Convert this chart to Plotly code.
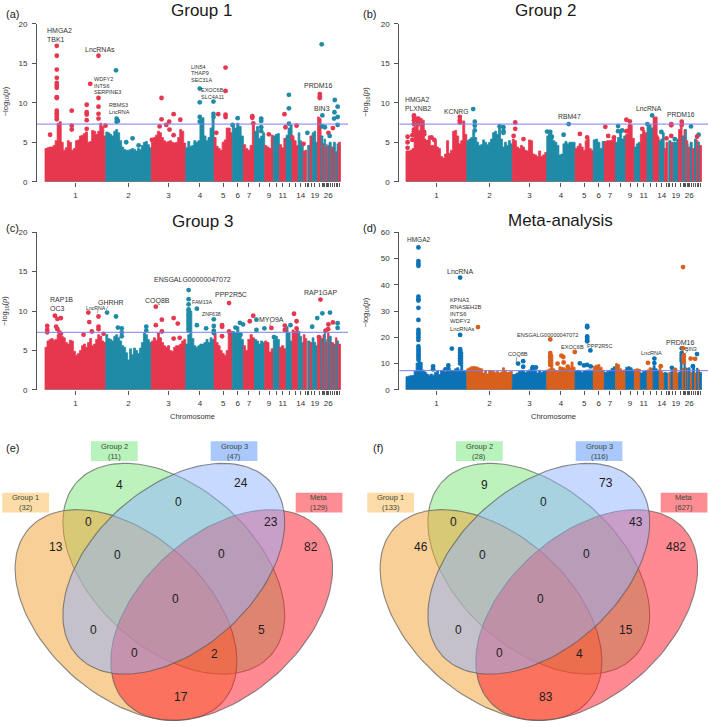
import math
import plotly.graph_objects as go

FONT = "Liberation Sans"
chrom_names = list(range(1, 29)) + [30, 31, 32, 33]
chrom_mb = [191,143,108,89,57,35,35,32,27,19,21,19,19,16,11,3,7,7,17,11,6,4,4,4,2,5,7,7,6,5,5,6]
labelled = [1,2,3,4,5,6,7,9,11,14,19,26]
threshold = 7.3

g1_env = [
 [4.2,4.3,4.4,4.4,4.6,5.2,7.4,7.6,5.0,4.0,4.3,5.2,5.0,4.0,4.2,5.2,5.3,5.8,5.9,6.1,6.3,5.0,5.1,6.5,6.4,6.0,6.4,7.4,7.0,5.8],
 [6.3,6.2,6.0,5.8,6.4,6.6,6.2,5.2,4.4,4.1,4.0,4.0,4.1,4.2,4.1,3.9,4.2,4.1,4.6,5.0,5.1,4.7,4.3],
 [5.0,5.6,5.9,6.4,6.2,5.6,5.2,5.0,5.1,5.2,5.0,4.9,5.0,5.6,6.6,6.4,4.9],
 [4.3,5.1,4.5,4.6,5.2,5.0,5.2,8.0,8.1,5.8,5.2,5.6,6.8,8.0],
 [5.6,4.5,4.2,4.0,5.0,5.3,6.8,6.8,6.2],
 [7.2,6.8,7.4,7.0,5.8],[4.7,4.2,4.0,4.6,7.2],[6.4,7.0,5.5,5.8,6.2],[4.6,4.4,4.2,5.9],
 [5.8,6.0,6.1],[4.7,4.3,5.5],[5.9,6.8,7.2],[5.5,5.2,4.6],[6.2,5.2,4.6],[3.9,4.0],[],
 [4.6],[5.8],[6.2,6.4,5.0],[8.2,8.0],[5.8],[4.8],[5.4],[4.4],[4.8],[4.6],[5.0],[4.4],[5.0],[3.8],[4.8],[5.0]]
g2_env = [
 [3.9,3.9,4.0,4.2,7.0,8.2,6.5,8.0,7.8,5.2,4.8,5.8,4.6,4.6,5.2,4.4,4.2,3.2,3.0,3.5,5.2,3.6,4.0,6.4,6.5,5.8,4.8,5.2,7.7,6.0],
 [5.2,5.4,5.6,6.4,5.6,5.0,4.6,4.7,5.3,5.0,4.7,5.0,5.4,6.2,6.4,6.0,6.8,5.4,4.4,5.0,4.6,5.2,4.8],
 [5.4,5.2,4.4,4.2,4.6,4.4,4.0,3.9,5.3,5.2,3.5,3.4,3.2,3.9,3.2,3.4,3.7],
 [5.8,5.7,5.6,5.2,5.0,4.6,3.4,3.5,4.8,5.1,4.8,5.0,5.0,5.0],
 [4.2,4.5,4.8,4.4,4.0,5.2,5.4,4.2,4.0],
 [5.3,5.4,5.0,4.2,5.1],[5.1,5.2,5.2,5.3,5.4],[5.0,5.6,6.4,5.4,5.8],[6.0,6.8,7.2,5.5],
 [4.4,4.8,5.0],[6.0,6.5,6.2],[7.0,7.2,6.8],[8.2,8.2,5.6],[5.2,5.4,6.2],[4.2,5.0],[],
 [5.2],[5.0],[5.0,5.0,5.4],[6.6,7.4],[5.8],[6.6],[6.6],[5.2],[4.8],[4.4],[5.0],[4.2],[5.4],[5.2],[5.0],[4.6]]
g3_env = [
 [5.4,6.2,6.4,6.5,6.3,6.4,7.0,7.2,6.8,6.6,6.0,5.8,6.3,6.2,4.9,4.4,4.6,5.0,5.6,5.8,5.4,6.0,6.5,5.6,5.8,6.4,7.0,6.8,6.2,6.0],
 [7.0,6.5,6.4,6.2,6.8,7.0,6.6,6.2,5.6,5.4,4.7,3.8,5.2,4.5,5.3,5.0,4.6,5.3,6.0,7.2,7.0,6.4,6.0],
 [6.2,6.6,6.3,7.2,6.6,6.0,5.6,5.4,5.6,5.0,4.9,5.4,5.6,5.6,5.8,6.2,6.4],
 [5.8,7.0,10.0,6.5,5.6,5.4,5.6,5.8,5.8,6.0,6.4,6.0,6.6,6.4],
 [7.2,6.0,5.6,5.0,4.6,4.4,5.0,7.4,7.4],
 [7.4,7.2,8.0,7.2,6.4],[5.6,5.0,6.4,7.0,6.6],[6.4,6.2,5.8,6.2,6.0],[6.2,6.0,4.8,5.2],
 [6.4,6.8,6.4],[5.4,5.6,5.2],[8.0,7.2,6.2],[7.6,7.4,7.8],[7.4,6.8,6.0],[7.0,6.5],[],
 [6.2],[6.0],[6.6,6.0,5.6],[6.6,6.8],[6.5],[7.0],[7.4],[6.0],[6.4],[7.2],[6.8],[6.0],[5.8],[6.6],[6.2],[5.8]]
meta_env = [
 [5.0,5.2,5.4,5.5,7.0,10.2,16.0,10.5,7.5,6.8,6.0,5.6,6.0,5.6,6.6,7.2,5.8,7.3,7.6,6.8,7.2,7.6,7.4,7.2,8.0,8.4,7.6,14.5,7.2,7.0],
 [8.0,8.4,8.8,8.9,8.8,8.6,8.2,8.0,6.4,7.2,6.0,7.4,7.2,7.0,6.6,7.0,6.4,6.8,8.4,7.4,6.6,6.8,7.0],
 [5.8,6.0,6.4,7.0,7.4,7.2,6.6,7.0,7.6,8.4,8.4,7.2,6.4,7.4,6.6,7.0,7.2],
 [7.6,8.0,13.5,8.0,7.4,7.0,8.8,8.6,8.4,8.0,8.2,8.4,10.6,8.6],
 [7.2,7.4,7.2,6.6,7.2,7.4,7.6,7.6,7.4],
 [9.0,9.4,9.6,8.6,7.4],[6.6,7.0,7.4,8.2,8.8],[10.0,9.6,8.0,7.2,7.6],[8.6,8.8,8.4,7.6],
 [7.8,8.0,7.8],[6.4,7.0,7.2],[7.6,8.4,8.2],[9.2,8.0,7.4],[8.6,7.0,6.4],[6.6,6.4],[],
 [6.6],[7.0],[6.6,7.4,6.4],[6.8,14.0],[8.2],[13.0],[8.4],[8.2],[8.0],[8.4],[6.6],[9.0],[6.4],[8.2],[7.6],[6.6]]

g1_x = [37]*14 + [84,84,84,16] + [131]*5 + [142] + [168]*5 + [190,223,225,229,225,255,275,294,336,366,366,381,390,404,425,360,391,404,486,486,529,529,529,486,486,567,567,544,567,567,538,605,589,651,651,654,679,679,679,679,703,752,766,766,766,755,776,790,824,812,863,863,863,869,871,871,879,904,910,919,909,919,908,919,890,894]
g1_y = [17.2,15.95,14.2,13.15,12.5,12.2,11.9,10.7,10.6,9.0,8.7,8.5,8.2,7.9, 9.0,7.1,6.6,5.95, 9.75,8.8,8.5,7.8,6.7, 12.4, 15.95,10.6,9.5,8.6,8.0, 7.1,14.1,8.0,7.7,7.6,5.0,5.5,4.6,5.3,10.6,7.9,7.2,7.6,8.55,7.85,7.0,6.6,5.9,11.8,10.05,10.15,8.6,8.2,8.2,7.6,14.45,11.5,8.55,8.5,8.2,6.2,8.05,7.2,8.3,8.1,7.4,8.0,7.7,6.9,6.4,6.0,8.55,11.0,9.3,7.35,6.9,5.6,7.1,6.2,4.8,11.1,10.8,10.6,17.4,8.4,7.0,6.9,6.8,10.35,9.5,8.8,8.2,8.0,7.2,6.2,5.8]
g2_x = [25]*6 + [39]*3 + [5]*3 + [20,20,57,57,57,68,80,89,169,169,169,211,216,216,216,294,306,306,306,343,343,338,369,443,453,453,458,495,511,546,569,626,635,653,666,666,679,692,703,692,703,703,742,758,773,787,802,833,833,833,844,866,866,895,919,914,818]
g2_y = [8.4,8.2,7.8,7.3,6.6,6.4,8.0,7.6,7.3,5.7,5.0,4.3,5.9,5.3,6.3,6.0,5.2,5.0,5.6,5.3,8.2,7.8,7.5,9.2,7.6,7.1,6.5,7.0,6.9,6.4,6.2,7.5,6.7,5.8,5.4,6.35,6.3,5.9,5.7,5.95,7.3,6.05,5.6,6.95,5.8,5.6,7.05,6.4,6.5,7.85,7.65,6.4,7.0,6.6,6.7,7.3,8.4,5.6,6.3,7.15,7.3,5.8,5.4,7.6,7.2,7.0,5.95,5.7,5.5]
g3_x = [31,39,50,7,7,7,35,39,45,50,136,139,168,168,168,147,121,184,195,223,229,241,241,241,318,318,348,348,367,367,404,417,404,423] + [451]*13 + [477,477,506,530,530,530,530,556,556,556,578,578,598,612,622,614,643,654,664,664,689,711,719,753,753,771,782,790,790,839,860,855,871,865,881,889,895,890,904,919,919]
g3_y = [9.4,9.0,9.1,8.1,7.6,7.3,8.0,7.7,7.3,7.1,9.8,8.6,9.3,8.0,7.7,7.4,7.0,7.1,9.8,9.3,7.9,7.8,7.3,6.8,8.0,7.5,10.55,8.2,8.9,7.4,9.1,8.4,6.5,6.6,12.65,11.5,10.85,10.2,9.9,9.6,9.3,9.0,8.7,8.4,8.1,7.8,7.5,10.3,8.2,7.8,8.95,8.1,7.5,7.2,8.2,8.0,6.8,11.0,7.4,7.9,8.5,8.3,7.0,8.7,9.4,8.9,7.6,7.8,7.85,6.7,8.15,7.6,8.2,9.65,8.7,7.8,8.0,6.7,9.1,9.7,11.45,7.5,7.7,9.8,8.3,8.55,8.45,7.85]
meta_x = [39]*20 + [85,85,133,133,124,144] + [170]*9 + [226,352,368,368,398,408] + [453]*7 + [476,488,494,495,508,530,546,559] + [569]*6 + [569,579,580,760,780,780,800,835,845] + [866]*5 + [870,870] + [872]*4 + [894,908,914,901]
meta_y = [54.2,49.0,48.0,47.2,35.5,34.5,34.0,31.2,26.6,22.8,21.8,21.0,20.0,19.0,16.5,15.5,14.5,13.5,12.5,11.5,8.9,7.8,9.3,8.0,7.8,15.7,42.7,20.9,15.5,15.0,14,13,12,11,10,23.9,10.0,10.9,8.8,8.6,8.5,19.2,14,13,12.3,11.2,10.5,9.5,10.0,13.0,12.5,10.4,8.8,14.4,10.1,9.3,24.3,23.8,20.3,19.7,19.0,18.5,9.5,15.0,8.9,10.3,11.9,10.2,9.0,8.4,7.6,15.8,14,13,12,11,15.8,46.7,13.2,12.5,11.5,10.5,11.9,11.8,13.6,9.0]

titles = ["Group 1", "Group 2", "Group 3", "Meta-analysis"]
panel_letters = ["(a)", "(b)", "(c)", "(d)", "(e)", "(f)"]

gene_a = [("HMGA2",46.7,27.3,7),("TBK1",47,35.7,7),("LncRNAs",85,46,7),("WDFY2",94,76.3,5.5),("INTS6",94,82.7,5.5),("SERPINE3",94,89,5.5),("RBMS3",109,102.7,5.5),("LncRNA",109,109.7,5.5),("LIN54",190.7,63.7,5.5),("THAP9",190.7,70,5.5),("SEC31A",190.7,77,5.5),("EXOC6B",201,87.3,5.5),("SLC4A11",201,94.3,5.5),("PRDM16",304,82.7,7),("BIN3",314,106.3,7)]
gene_b = [("HMGA2",405,97,6.8),("PLXNB2",405,105.3,6.8),("KCNRG",443.7,109,6.8),("RBM47",557.5,114,6.8),("LncRNA",635.7,105.7,6.8),("PRDM16",666.7,111.7,6.8)]
gene_c = [("RAP1B",50,299.7,7),("OC3",50,308.3,7),("LncRNA",86,307.7,5.2),("GHRHR",98.3,302,7),("COQ8B",145.3,300.7,7),("ENSGALG00000047072",154,279,7),("FAM13A",192,302,5.2),("ZNF638",202,314.3,5.2),("PPP2R5C",214.7,294.3,7),("MYO9A",259.3,319.3,7),("RAP1GAP",304,292.3,7)]
gene_d = [("HMGA2",407,238.3,6.5),("LncRNA",446.5,271,7),("KPNA3",450,300,5.8),("RNASEH2B",450,307,5.8),("INTS6",450,314.3,5.8),("WDFY2",450,321.3,5.8),("LncRNAs",450,328.7,5.8),("ENSGALG00000047072",517,334.7,5.6),("COQ8B",507.7,354,5.6),("EXOC6B",560.7,347.3,5.6),("PPP2R5C",587,346.3,5.6),("LncRNA",641,353,5.6),("PRDM16",666,342.7,7),("BIN3",684.7,349.3,5.2)]
leader_x0 = [98,108,271,517,688]
leader_y0 = [309,306,322,357,351]
leader_x1 = [97.5,106,269.5,516,683]
leader_y1 = [313,310,326,363,356]

venn_sets_e = ["Group 1\n(32)", "Group 2\n(11)", "Group 3\n(47)", "Meta\n(129)"]
venn_sets_f = ["Group 1\n(133)", "Group 2\n(28)", "Group 3\n(116)", "Meta\n(627)"]
venn_counts_e = [4,24,0,0,23,13,82,0,0,0,0,5,0,2,17]
venn_counts_f = [9,73,0,0,43,46,482,0,0,0,0,15,0,4,83]
region_x = [119,241,178,88,271,56,311,117,221,175,93,261,134,214,181]
region_y = [487,485,504,524,524,550,550,558,557,602,634,634,657,658,702]

box_x = [2.3,91,210.7,295.7]
box_y = [495,442.7,442.7,495]
box_fill = ["#fddca8","#b8f3bc","#a9c8fd","#fd8d93"]
# ellipses listed in stacking order: Group 2, Group 1, Meta, Group 3
ell_cx = [173.8,126,221.7,173.8]
ell_cy = [571.8,618.7,618.7,571.8]
ell_rot = [42.5,42.5,-42.5,-42.5]
ell_fill = ["rgba(125,229,122,0.5)","rgba(240,160,48,0.5)","rgba(255,21,37,0.5)","rgba(146,179,255,0.5)"]
ell_a, ell_b = 130.7, 81.3

W, H = 709, 727
fig = go.Figure()
TOTAL = sum(chrom_mb)
starts = [sum(chrom_mb[:i]) for i in range(len(chrom_mb))]

def chrom_colour_index():
    out, k = [], 0
    for i in range(len(chrom_mb)):
        if chrom_names[i] == 16:
            out.append(k % 2)
            continue
        out.append(k % 2)
        k += 1
    return out
cidx = chrom_colour_index()

def colour_at(x, pal):
    for i in range(len(chrom_mb)):
        if starts[i] <= x < starts[i] + chrom_mb[i]:
            return pal[cidx[i]]
    return pal[0]

def dom(a, b, n):
    return [a / n, b / n]

panels = [
 dict(env=g1_env, px=g1_x, py=g1_y, x0=45, top=20, bot=180, ymax=20, dt=5, pal=["#e7374f","#1f8ba6"], left=37, right=348),
 dict(env=g2_env, px=g2_x, py=g2_y, x0=406, top=20, bot=180, ymax=20, dt=5, pal=["#e7374f","#1f8ba6"], left=399.3, right=708),
 dict(env=g3_env, px=g3_x, py=g3_y, x0=45, top=231, bot=390.7, ymax=20, dt=5, pal=["#e7374f","#1f8ba6"], left=37, right=348),
 dict(env=meta_env, px=meta_x, py=meta_y, x0=406, top=231, bot=390.7, ymax=60, dt=10, pal=["#0b72b6","#d8601c"], left=399.3, right=708),
]
scale = 295.5 / TOTAL
centres = [starts[i] + chrom_mb[i] / 2 for i in range(len(chrom_mb))]
ticktext = [str(n) if n in labelled else "" for n in chrom_names]
layout = {}
for k, p in enumerate(panels, start=1):
    xa, ya = f"x{k}", f"y{k}"
    for i, vals in enumerate(p["env"]):
        if not vals:
            continue
        w = chrom_mb[i] / len(vals)
        xs = [starts[i]]
        ys = [0]
        for j, v in enumerate(vals):
            xs += [starts[i] + j * w, starts[i] + (j + 1) * w]
            ys += [v, v]
        xs.append(starts[i] + chrom_mb[i])
        ys.append(0)
        col = p["pal"][cidx[i]]
        fig.add_trace(go.Scatter(x=xs, y=ys, mode="lines", fill="tozeroy", fillcolor=col, line=dict(color=col, width=0.8), xaxis=xa, yaxis=ya, showlegend=False, hoverinfo="skip", cliponaxis=False))
    fig.add_trace(go.Scatter(x=p["px"], y=p["py"], mode="markers", marker=dict(size=4.8, color=[colour_at(x, p["pal"]) for x in p["px"]]), xaxis=xa, yaxis=ya, showlegend=False, hoverinfo="skip", cliponaxis=False))
    xr = [(p["left"] - p["x0"]) / scale, (p["right"] - p["x0"]) / scale]
    fig.add_trace(go.Scatter(x=xr, y=[threshold, threshold], mode="lines", line=dict(color="#7c7cf2", width=1), xaxis=xa, yaxis=ya, showlegend=False, hoverinfo="skip"))
    fig.add_trace(go.Scatter(x=[0, TOTAL], y=[0, 0], mode="lines", line=dict(color="#555555", width=1), xaxis=xa, yaxis=ya, showlegend=False, hoverinfo="skip", cliponaxis=False))
    layout[f"xaxis{k}"] = dict(domain=dom(p["left"], p["right"], W), range=xr, anchor=ya, tickmode="array", tickvals=centres, ticktext=ticktext, ticks="outside", ticklen=4.5, tickwidth=0.8, tickcolor="#555555", tickangle=0, tickfont=dict(size=8, color="#333333", family=FONT), showgrid=False, zeroline=False, showline=False, ticklabelstandoff=1)
    layout[f"yaxis{k}"] = dict(domain=[1 - p["bot"] / H, 1 - p["top"] / H], range=[0, p["ymax"]], anchor=xa, tickmode="linear", tick0=0, dtick=p["dt"], ticks="outside", ticklen=4, tickwidth=0.8, tickcolor="#555555", tickfont=dict(size=8, color="#333333", family=FONT), showgrid=False, zeroline=False, showline=True, linecolor="#555555", linewidth=1, ticklabelstandoff=3)

layout["xaxis5"] = dict(domain=[0, 1], range=[0, W], visible=False, anchor="y5", fixedrange=True)
layout["yaxis5"] = dict(domain=[0, 1], range=[H, 0], visible=False, anchor="x5", fixedrange=True)

annotations, shapes = [], []
def ann(x, y, text, size, anchor="left", color="#333333", angle=0):
    annotations.append(dict(x=x, y=y, xref="x5", yref="y5", text=text, showarrow=False, xanchor=anchor, yanchor="middle", borderpad=0, borderwidth=0, textangle=angle, font=dict(size=size, color=color, family=FONT)))

for (t, x, y) in zip(titles, [201.7, 545, 202, 560], [7, 7, 220.7, 219]):
    ann(x, y, t, 17, "center", "#1a1a1a")
for (t, x, y) in zip(panel_letters, [12, 369, 12, 369, 12, 378], [10, 10, 227, 227, 450, 450]):
    ann(x, y, t, 11, "center", "#222222")
for g in (gene_a, gene_b, gene_c, gene_d):
    for (t, x, y, s) in g:
        ann(x, y, t, s)
for a, b, c, d in zip(leader_x0, leader_y0, leader_x1, leader_y1):
    shapes.append(dict(type="line", xref="x5", yref="y5", x0=a, y0=b, x1=c, y1=d, line=dict(color="#666666", width=0.6)))
ylab = "\u2212log<sub>10</sub>(<i>p</i>)"
for (x, y) in [(5.5, 99), (366, 99), (5.5, 311), (366, 312)]:
    ann(x, y, ylab, 7.5, "center", "#333333", -90)
ann(192, 417.7, "Chromosome", 7.5, "center")
ann(553.5, 417.7, "Chromosome", 7.5, "center")

for off, sets, counts in [(0, venn_sets_e, venn_counts_e), (365, venn_sets_f, venn_counts_f)]:
    for bx, by, f, s in zip(box_x, box_y, box_fill, sets):
        shapes.append(dict(type="rect", xref="x5", yref="y5", x0=bx + off, x1=bx + off + 46.7, y0=by, y1=by + 20, fillcolor=f, line=dict(width=0)))
        a, b = s.split("\n")
        ann(bx + off + 23.3, by + 5, a, 7.5, "center", "#3a4a3a")
        ann(bx + off + 23.3, by + 15, b, 7.5, "center", "#3a4a3a")
    for cx, cy, rot, f in zip(ell_cx, ell_cy, ell_rot, ell_fill):
        th = math.radians(rot)
        ex, ey = [], []
        for d in range(0, 361, 3):
            t = math.radians(d)
            u, v = ell_a * math.cos(t), ell_b * math.sin(t)
            ex.append(cx + off + u * math.cos(th) - v * math.sin(th))
            ey.append(cy + u * math.sin(th) + v * math.cos(th))
        fig.add_trace(go.Scatter(x=ex, y=ey, mode="lines", fill="toself", fillcolor=f, line=dict(color="rgba(90,90,90,0.7)", width=1.1), xaxis="x5", yaxis="y5", showlegend=False, hoverinfo="skip"))
    for c, x, y in zip(counts, region_x, region_y):
        ann(x + off, y, str(c), 12, "center", "#1c1c1c")

fig.update_layout(width=W, height=H, margin=dict(l=0, r=0, t=0, b=0), paper_bgcolor="white", plot_bgcolor="rgba(0,0,0,0)", showlegend=False, hovermode=False, annotations=annotations, shapes=shapes, **layout)
fig.write_html("out.html", config=dict(displayModeBar=False), post_script="document.body.style.margin='0';")
